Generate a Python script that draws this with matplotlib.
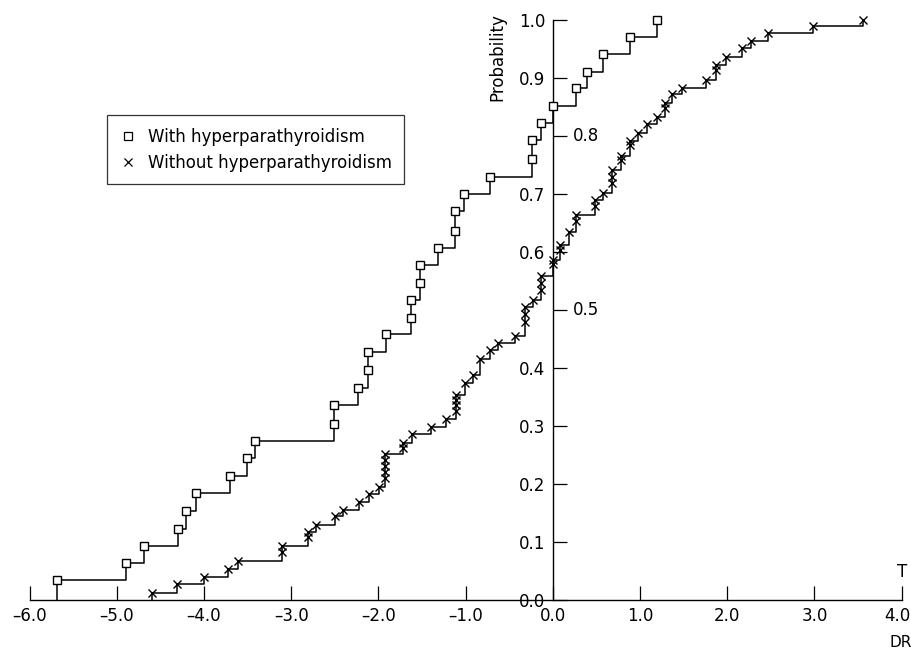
import matplotlib
matplotlib.use("Agg")
import matplotlib.pyplot as plt
from matplotlib.lines import Line2D
import numpy as np

plt.rcParams['font.family'] = ['DejaVu Sans']

# ---- data ----
with_x = [-5.69, -4.89, -4.69, -4.30, -4.20, -4.09, -3.70, -3.51, -3.42,
          -2.51, -2.51, -2.23, -2.12, -2.12, -1.91, -1.63, -1.63, -1.52,
          -1.52, -1.32, -1.12, -1.12, -1.02, -0.72, -0.24, -0.24, -0.13,
          0.00, 0.27, 0.39, 0.58, 0.89, 1.19]
with_p = [0.034, 0.063, 0.093, 0.123, 0.154, 0.184, 0.214, 0.245, 0.275,
          0.304, 0.337, 0.365, 0.397, 0.428, 0.458, 0.487, 0.518, 0.547,
          0.577, 0.607, 0.637, 0.671, 0.700, 0.730, 0.761, 0.793, 0.822,
          0.852, 0.882, 0.911, 0.941, 0.971, 1.000]

without_x = [-4.60, -4.31, -4.00, -3.72, -3.61, -3.11, -3.11, -2.81, -2.81,
             -2.71, -2.50, -2.41, -2.22, -2.11, -1.99, -1.92, -1.92, -1.92,
             -1.92, -1.92, -1.72, -1.72, -1.62, -1.40, -1.22, -1.11, -1.11,
             -1.11, -1.11, -1.01, -0.92, -0.84, -0.72, -0.63, -0.43, -0.32,
             -0.32, -0.32, -0.23, -0.13, -0.13, -0.13, 0.00, 0.00, 0.08,
             0.08, 0.19, 0.27, 0.27, 0.48, 0.48, 0.58, 0.68, 0.68, 0.68,
             0.78, 0.78, 0.88, 0.88, 0.98, 1.08, 1.19, 1.29, 1.29, 1.37,
             1.48, 1.76, 1.87, 1.87, 1.98, 2.17, 2.27, 2.47, 2.98, 3.56]
without_p = [0.012, 0.027, 0.039, 0.053, 0.068, 0.083, 0.093, 0.108, 0.117,
             0.130, 0.144, 0.156, 0.169, 0.182, 0.194, 0.210, 0.220, 0.231,
             0.241, 0.252, 0.262, 0.270, 0.286, 0.299, 0.312, 0.326, 0.337,
             0.345, 0.353, 0.374, 0.388, 0.415, 0.431, 0.443, 0.456, 0.480,
             0.493, 0.506, 0.518, 0.534, 0.546, 0.558, 0.579, 0.586, 0.604,
             0.612, 0.635, 0.653, 0.663, 0.680, 0.689, 0.702, 0.719, 0.729,
             0.742, 0.758, 0.766, 0.785, 0.791, 0.806, 0.820, 0.833, 0.848,
             0.857, 0.872, 0.883, 0.897, 0.914, 0.922, 0.937, 0.951, 0.964,
             0.978, 0.990, 1.000]

x_ticks = [-6.0, -5.0, -4.0, -3.0, -2.0, -1.0, 0.0, 1.0, 2.0, 3.0, 4.0]
y_ticks = [0.0, 0.1, 0.2, 0.3, 0.4, 0.5, 0.6, 0.7, 0.8, 0.9, 1.0]
y_right_labels = [0.5, 0.8]
legend_labels = ["With hyperparathyroidism", "Without hyperparathyroidism"]

W, H = 912, 652
fig = plt.figure(figsize=(W / 100, H / 100), dpi=100)
ax = fig.add_axes([29.5 / W, 1 - 600 / H, (901.7 - 29.5) / W, 580 / H])
ax.set_xlim(-6, 4)
ax.set_ylim(0, 1)


def ecdf_line(xs, ps, marker, ms, mfc):
    sx = [xs[0]] + list(xs)
    sy = [0.0] + list(ps)
    ax.plot(sx, sy, drawstyle='steps-post', color='black', lw=1.1,
            clip_on=False, zorder=2)
    ax.plot(xs, ps, linestyle='none', marker=marker, ms=ms, mfc=mfc,
            mec='black', mew=1.0, clip_on=False, zorder=3)


ecdf_line(with_x, with_p, 's', 6.0, 'white')
ecdf_line(without_x, without_p, 'x', 6.0, 'black')

# spines
for s in ['top', 'right']:
    ax.spines[s].set_visible(False)
ax.spines['left'].set_position(('data', 0))
ax.spines['bottom'].set_position(('data', 0))
ax.spines['left'].set_linewidth(1.0)
ax.spines['bottom'].set_linewidth(1.0)


def fmt_x(v):
    return f"{v:.1f}".replace('-', '\u2013')


ax.set_xticks(x_ticks)
# last label is drawn separately, nudged so it stays inside the figure
ax.set_xticklabels([fmt_x(v) if v != x_ticks[-1] else "" for v in x_ticks])
ax.set_yticks(y_ticks)
ax.set_yticklabels(["" if v in y_right_labels else f"{v:.1f}" for v in y_ticks])
ax.tick_params(axis='x', direction='in', length=10, width=0.9, pad=5,
               labelsize=12)
ax.tick_params(axis='y', direction='in', length=10, width=0.9, pad=5.5,
               labelsize=12)

ax.annotate(fmt_x(x_ticks[-1]), xy=(x_ticks[-1], 0), xytext=(-3, -5),
            textcoords='offset points', ha='center', va='top', fontsize=12,
            annotation_clip=False)

for v in y_right_labels:
    ax.annotate(f"{v:.1f}", xy=(0, v), xytext=(14.5, 0),
                textcoords='offset points', ha='left', va='center',
                fontsize=12)

ax.text(-0.64, 0.936, "Probability", rotation=90, ha='center', va='center',
        fontsize=12)
ax.text(4.0, 0.048, "T", ha='center', va='center', fontsize=12)
ax.text(3.86, -0.074, "DR", ha='left', va='center', fontsize=11,
        clip_on=False)

handles = [Line2D([], [], linestyle='none', marker='s', ms=5.5, mfc='white',
                  mec='black', mew=0.9),
           Line2D([], [], linestyle='none', marker='x', ms=5.5, mec='black',
                  mew=0.9)]
leg = ax.legend(handles, legend_labels, loc='upper left',
                bbox_to_anchor=(106.7 / W, 1 - 115 / H),
                bbox_transform=fig.transFigure, frameon=True, fancybox=False,
                edgecolor='black', fontsize=12, borderpad=0.75,
                handlelength=1.0, handletextpad=0.7, labelspacing=0.5,
                borderaxespad=0)
leg.get_frame().set_linewidth(0.9)

fig.savefig("out.png", dpi=100)
